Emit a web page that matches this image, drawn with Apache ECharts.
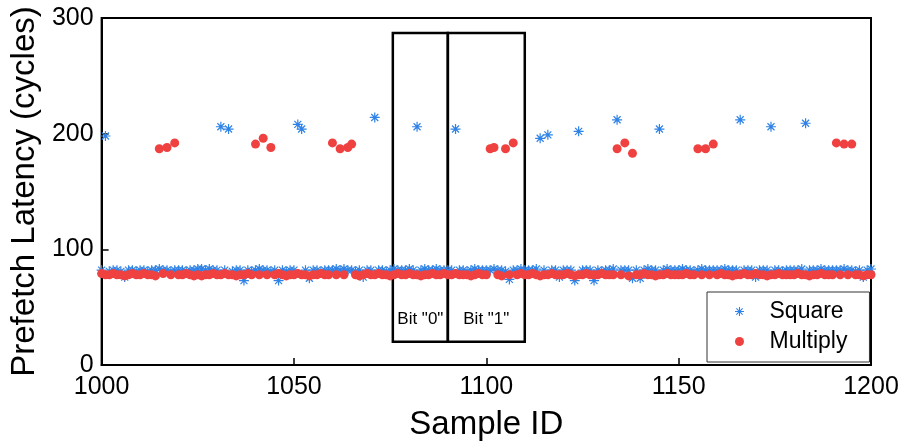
<!DOCTYPE html>
<html>
<head>
<meta charset="utf-8">
<script src="https://cdn.jsdelivr.net/npm/echarts@6/dist/echarts.min.js"></script>
<style>html,body{margin:0;padding:0;background:#fff}#c{width:902px;height:446px}</style>
</head>
<body>
<div id="c"></div>
<script>
// Sample IDs start at 1000, one sample per ID
var sampleStart = 1000;
var squareLatency = [
  82,198,81,82,82,81,76,82,82,81,
  82,82,81,82,82,83,82,82,81,82,
  82,82,81,82,82,83,83,82,83,82,
  82,206,82,204,81,82,82,73,82,81,
  82,83,82,82,81,82,73,82,81,82,
  82,208,204,82,75,82,82,81,82,82,
  82,83,82,83,82,82,81,82,76,82,
  82,214,82,82,81,82,83,82,82,82,
  83,82,206,82,83,82,82,83,82,82,
  82,82,204,82,82,81,82,83,82,82,
  82,82,83,82,82,81,74,82,82,83,
  82,82,82,83,196,82,199,82,82,76,
  82,82,82,73,202,82,82,82,73,82,
  81,82,82,83,212,82,82,82,75,82,
  75,82,83,82,82,204,82,83,82,82,
  82,83,82,82,81,82,83,82,82,82,
  82,82,83,82,82,82,212,82,82,82,
  76,82,82,82,206,82,82,81,82,82,
  82,82,83,209,82,82,82,83,82,82,
  82,82,82,83,82,82,81,82,76,82,
  83
];
var multiplyLatency = [
  79,78,78,79,78,78,77,78,79,78,
  78,79,78,78,77,187,79,188,78,192,
  78,78,79,78,77,78,77,78,78,79,
  78,78,79,78,78,77,78,78,79,78,
  191,78,196,78,188,78,79,78,77,78,
  78,79,78,78,77,78,78,79,78,78,
  192,78,187,78,188,191,78,77,78,79,
  78,78,79,78,78,77,78,79,78,78,
  79,78,78,77,78,78,79,78,78,79,
  78,78,79,78,78,78,77,78,79,78,
  78,187,188,78,77,187,78,192,78,79,
  78,78,79,78,77,78,78,79,78,78,
  78,79,78,77,78,78,79,78,78,78,
  79,78,78,78,187,78,192,77,183,78,
  78,79,78,78,77,78,78,79,78,78,
  78,78,79,78,78,187,78,187,78,191,
  78,79,78,78,77,78,78,79,78,78,
  79,78,78,77,78,78,79,78,78,78,
  78,79,78,78,77,78,78,79,78,78,
  78,192,78,191,78,191,78,78,77,78,
  78
];
var seriesNames = ['Square', 'Multiply'];
var bitLabels = ['Bit "0"', 'Bit "1"'];
var bitRanges = [[1075.7, 1090], [1090, 1110]];
var bitYRange = [20, 287];
var xTicks = {min: 1000, max: 1200, interval: 50};
var yTicks = {min: 0, max: 300, interval: 100};

function toPairs(arr) {
  return arr.map(function (v, i) { return [sampleStart + i, v]; });
}
var FONT = "'Liberation Sans', Arial, Helvetica, sans-serif";
var asterisk = 'path://M-5,-0.6L5,-0.6L5,0.6L-5,0.6Z M-0.6,-5L0.6,-5L0.6,5L-0.6,5Z M-3.08,-3.92L3.92,3.08L3.08,3.92L-3.92,-3.08Z M-3.92,3.08L3.08,-3.92L3.92,-3.08L-3.08,3.92Z';

var chart = echarts.init(document.getElementById('c'), null, {renderer: 'canvas'});
chart.setOption({
  animation: false,
  backgroundColor: '#fff',
  textStyle: {fontFamily: FONT},
  grid: {left: 100, right: 31, top: 18, bottom: 79, show: true, borderColor: '#000', borderWidth: 2, backgroundColor: 'transparent'},
  legend: {
    data: seriesNames,
    orient: 'vertical',
    left: 707, top: 292,
    padding: [8, 22, 9, 28],
    itemGap: 7,
    itemWidth: 10, itemHeight: 9,
    borderColor: '#333', borderWidth: 1,
    backgroundColor: '#fff',
    textStyle: {fontSize: 23, color: '#000', fontFamily: FONT, padding: [0, 0, 0, 20]}
  },
  xAxis: {
    type: 'value', min: xTicks.min, max: xTicks.max, interval: xTicks.interval,
    name: 'Sample ID', nameLocation: 'middle', nameGap: 43,
    nameTextStyle: {fontSize: 33, color: '#000', fontFamily: FONT},
    axisLine: {show: true, onZero: false, lineStyle: {color: '#000', width: 2}},
    axisTick: {show: true, inside: true, length: 7, lineStyle: {color: '#000', width: 1.5}},
    axisLabel: {fontSize: 25, color: '#000', margin: 10, fontFamily: FONT, formatter: function (v) { return String(v); }},
    splitLine: {show: false}
  },
  yAxis: {
    type: 'value', min: yTicks.min, max: yTicks.max, interval: yTicks.interval,
    name: 'Prefetch Latency (cycles)', nameLocation: 'middle', nameGap: 49,
    nameTextStyle: {fontSize: 33, color: '#000', fontFamily: FONT},
    axisLine: {show: true, lineStyle: {color: '#000', width: 2}},
    axisTick: {show: true, inside: true, length: 7, lineStyle: {color: '#000', width: 1.5}},
    axisLabel: {fontSize: 25, color: '#000', margin: 8, fontFamily: FONT},
    splitLine: {show: false}
  },
  series: [
    {
      name: seriesNames[0], type: 'scatter', data: toPairs(squareLatency),
      symbol: asterisk, symbolSize: 10,
      itemStyle: {color: '#2f83e6', opacity: 1}, z: 2
    },
    {
      name: seriesNames[1], type: 'scatter', data: toPairs(multiplyLatency),
      symbol: 'circle', symbolSize: 9,
      itemStyle: {color: '#f04141', opacity: 1}, z: 3
    },
    {
      name: 'bits', type: 'scatter', data: [], z: 5,
      markArea: {
        silent: true,
        itemStyle: {color: 'rgba(0,0,0,0)', borderColor: '#000', borderWidth: 2.5},
        label: {show: true, position: 'insideBottom', distance: 15, fontSize: 17, color: '#000', fontFamily: FONT},
        data: bitRanges.map(function (r, i) {
          return [{name: bitLabels[i], xAxis: r[0], yAxis: bitYRange[0]}, {xAxis: r[1], yAxis: bitYRange[1]}];
        })
      }
    }
  ]
});
</script>
</body>
</html>
